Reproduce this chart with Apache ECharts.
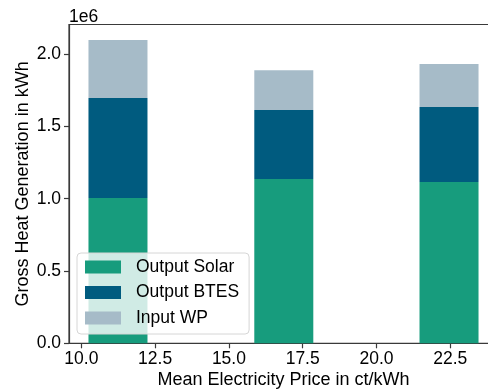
<!DOCTYPE html>
<html>
<head>
<meta charset="utf-8">
<script src="https://cdn.jsdelivr.net/npm/echarts@6/dist/echarts.min.js"></script>
<style>
  html, body { margin: 0; padding: 0; background: #fff; }
  #chart { width: 488px; height: 391px; }
</style>
</head>
<body>
<div id="chart"></div>
<script>
// Mean electricity price scenarios (ct/kWh) and the gross heat generation per source (kWh)
const prices = [11.24, 16.86, 22.46];
const outputSolar = [1005000, 1136000, 1115000];
const outputBTES = [691000, 477000, 519000];
const inputWP = [401000, 276000, 297000];

const seriesNames = ['Output Solar', 'Output BTES', 'Input WP'];
const seriesColors = ['#179c7d', '#005b7f', '#a6bbc8'];

const xTicks = [10, 12.5, 15, 17.5, 20, 22.5];
const yTicks = [0, 500000, 1000000, 1500000, 2000000];

const BAR_WIDTH = 2.0; // in ct/kWh
const FONT = "'Liberation Sans', Arial, sans-serif";
const AXIS_COLOR = '#3a3a3a';

// Build stacked [x, bottom, top] records for each layer
const layers = [outputSolar, outputBTES, inputWP];
const base = prices.map(() => 0);
const stacked = layers.map(values => values.map((v, i) => {
  const rec = [prices[i], base[i], base[i] + v];
  base[i] += v;
  return rec;
}));

function renderBar(params, api) {
  const x = api.value(0);
  const p0 = api.coord([x - BAR_WIDTH / 2, api.value(1)]);
  const p1 = api.coord([x + BAR_WIDTH / 2, api.value(2)]);
  return {
    type: 'rect',
    shape: { x: p0[0], y: p1[1], width: p1[0] - p0[0], height: p0[1] - p1[1] },
    style: { fill: api.visual('color') }
  };
}

const chart = echarts.init(document.getElementById('chart'), null, { renderer: 'canvas' });

chart.setOption({
  animation: false,
  backgroundColor: '#ffffff',
  textStyle: { fontFamily: FONT },
  grid: {
    left: 69, top: 24.5, right: -10, bottom: 47.7,
    outerBoundsMode: 'none',
    containLabel: false,
    show: true, borderColor: AXIS_COLOR, borderWidth: 1.2, backgroundColor: 'transparent'
  },
  graphic: [{
    type: 'text', left: 69, top: 8,
    style: { text: '1e6', fontSize: 17.5, fontFamily: FONT, fill: '#000' }
  }],
  legend: {
    orient: 'vertical',
    left: 77, top: 253,
    padding: [5, 10, 7, 8],
    itemWidth: 36, itemHeight: 13, itemGap: 7.5,
    icon: 'rect',
    backgroundColor: 'rgba(255,255,255,0.8)',
    borderColor: '#d6d6d6', borderWidth: 1, borderRadius: 4,
    textStyle: { fontSize: 17.5, fontFamily: FONT, color: '#000', padding: [0, 0, 0, 10] },
    data: seriesNames,
    z: 10
  },
  xAxis: {
    type: 'value',
    min: 9.58, max: 24.12,
    name: 'Mean Electricity Price in ct/kWh',
    nameLocation: 'middle', nameGap: 28,
    nameMoveOverlap: false,
    nameTextStyle: { fontSize: 18, fontFamily: FONT, color: '#000' },
    axisLine: { show: true, lineStyle: { color: AXIS_COLOR, width: 1.2 } },
    axisTick: { show: true, length: 5, lineStyle: { color: AXIS_COLOR, width: 1.2 }, customValues: xTicks },
    axisLabel: {
      fontSize: 17.5, fontFamily: FONT, color: '#000', margin: 7,
      customValues: xTicks,
      formatter: v => v.toFixed(1)
    },
    splitLine: { show: false }
  },
  yAxis: {
    type: 'value',
    min: 0, max: 2205000,
    name: 'Gross Heat Generation in kWh',
    nameLocation: 'middle', nameGap: 37, nameRotate: 90,
    nameMoveOverlap: false,
    nameTextStyle: { fontSize: 18, fontFamily: FONT, color: '#000' },
    axisLine: { show: true, lineStyle: { color: AXIS_COLOR, width: 1.2 } },
    axisTick: { show: true, length: 5, lineStyle: { color: AXIS_COLOR, width: 1.2 }, customValues: yTicks },
    axisLabel: {
      fontSize: 17.5, fontFamily: FONT, color: '#000', margin: 8,
      customValues: yTicks,
      formatter: v => (v / 1e6).toFixed(1)
    },
    splitLine: { show: false }
  },
  series: seriesNames.map((name, k) => ({
    name: name,
    type: 'custom',
    renderItem: renderBar,
    itemStyle: { color: seriesColors[k] },
    encode: { x: 0, y: [1, 2] },
    data: stacked[k],
    z: 2
  }))
});
</script>
</body>
</html>
